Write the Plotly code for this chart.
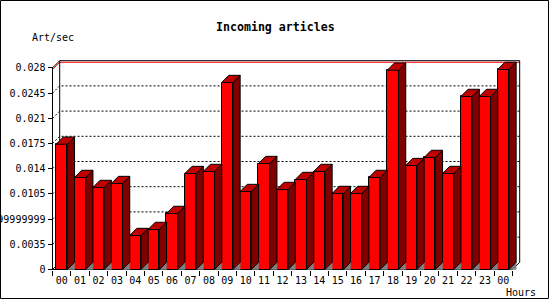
import plotly.graph_objects as go

# ---------------- data ----------------
hours = ["00", "01", "02", "03", "04", "05", "06", "07", "08", "09", "10", "11",
         "12", "13", "14", "15", "16", "17", "18", "19", "20", "21", "22", "23", "00"]
articles_per_sec = [0.01740, 0.01278, 0.01139, 0.01194, 0.00472, 0.00556, 0.00778,
                    0.01333, 0.01361, 0.02597, 0.01083, 0.01472, 0.01111, 0.01250,
                    0.01361, 0.01056, 0.01056, 0.01278, 0.02768, 0.01444, 0.01556,
                    0.01333, 0.02403, 0.02403, 0.02778]
y_tick_values = [0, 0.0035, 0.007, 0.0105, 0.014, 0.0175, 0.021, 0.0245, 0.028]
y_tick_labels = ["0", "0.0035", "0.0069999999999999", "0.0105", "0.014", "0.0175",
                 "0.021", "0.0245", "0.028"]
title_text = "Incoming articles"
y_title = "Art/sec"
x_title = "Hours"

# ---------------- geometry ----------------
W, H = 550, 300
M_L, M_R, M_T, M_B = 50, 27, 57, 27
PLOT_W = W - M_L - M_R
PLOT_H = H - M_T - M_B
CAT_PX = 18.4            # pixels per category
PX_PER_UNIT = 7200.0     # pixels per y unit
DEPTH_PX = 7.2           # 3d depth
AX_X_PX = 52.5           # pixel of front y axis
AX_Y_PX = 269.5          # pixel of front x axis

n = len(hours)
XL = -0.5 - (AX_X_PX - M_L) / CAT_PX
XR = XL + PLOT_W / CAT_PX
YB = -((H - M_B) - AX_Y_PX) / PX_PER_UNIT
YT = YB + PLOT_H / PX_PER_UNIT
dx = DEPTH_PX / CAT_PX
dy = DEPTH_PX / PX_PER_UNIT
bar_w = 11.3 / CAT_PX
x0 = -0.5
x1 = n - 0.5
ytop = y_tick_values[-1]
vmax = max(articles_per_sec)

FONT = "DejaVu Sans Mono"


def px_x(p):
    return (p - M_L) / PLOT_W


def px_y(p):
    return ((H - M_B) - p) / PLOT_H


# ---------------- 3d faces ----------------
side_x, side_y, top_x, top_y, fl_x, fl_y = [], [], [], [], [], []
for i, v in enumerate(articles_per_sec):
    xl = i - bar_w / 2
    xr = i + bar_w / 2
    side_x += [xr, xr + dx, xr + dx, xr, xr, None]
    side_y += [0, dy, v + dy, v, 0, None]
    top_x += [xl, xl + dx, xr + dx, xr, xl, None]
    top_y += [v, v + dy, v + dy, v, v, None]
    fl_x += [xr, xr + dx, xr + dx, xr, None]
    fl_y += [0, 0, dy, 0, None]

fig = go.Figure()
fig.add_trace(go.Scatter(x=fl_x, y=fl_y, mode="lines", fill="toself",
                         fillcolor="#808080", line=dict(color="#808080", width=0.5),
                         hoverinfo="skip", showlegend=False))
fig.add_trace(go.Scatter(x=side_x, y=side_y, mode="lines", fill="toself",
                         fillcolor="#800000", line=dict(color="black", width=1),
                         hoverinfo="skip", showlegend=False))
fig.add_trace(go.Scatter(x=top_x, y=top_y, mode="lines", fill="toself",
                         fillcolor="#C00000", line=dict(color="black", width=1),
                         hoverinfo="skip", showlegend=False))
fig.add_trace(go.Bar(x=list(range(n)), y=articles_per_sec, width=bar_w,
                     marker=dict(color="#FF0000", line=dict(color="black", width=1)),
                     hoverinfo="skip", showlegend=False))

# ---------------- walls, grid, axis lines ----------------
shapes = []
for v in y_tick_values[1:-1]:
    shapes.append(dict(type="path", xref="x", yref="y", layer="below",
                       path=f"M {x0},{v} L {x0 + dx},{v + dy} L {x1 + dx},{v + dy}",
                       line=dict(color="black", width=1, dash="2px,2px")))
shapes.append(dict(type="path", xref="x", yref="y", layer="below",
                   path=f"M {x0},{vmax} L {x0 + dx},{vmax + dy} L {x1 + dx},{vmax + dy}",
                   line=dict(color="#FF0000", width=1)))
shapes.append(dict(type="path", xref="x", yref="y", layer="below",
                   path=(f"M {x0 + dx},{dy} L {x0 + dx},{ytop + dy} L {x1 + dx},{ytop + dy} "
                         f"L {x1 + dx},{dy}"),
                   line=dict(color="black", width=1)))
shapes.append(dict(type="path", xref="x", yref="y", layer="below",
                   path=(f"M {x0 + dx},{ytop + dy} L {x0},{ytop} L {x0},0 L {x1},0 "
                         f"L {x1 + dx},{dy}"),
                   line=dict(color="black", width=1)))
shapes.append(dict(type="path", xref="x", yref="y", layer="below",
                   path=f"M {x0},0 L {x0 + dx},{dy}",
                   line=dict(color="black", width=1)))
shapes.append(dict(type="rect", xref="paper", yref="paper",
                   x0=px_x(0.5), x1=px_x(548.5), y0=px_y(298.5), y1=px_y(0.5),
                   line=dict(color="black", width=1)))

annotations = [
    dict(text=title_text, xref="paper", yref="paper", x=px_x(275), y=px_y(27),
         xanchor="center", yanchor="middle", showarrow=False,
         font=dict(family=FONT, size=11.6, color="black", weight="bold")),
    dict(text=y_title, xref="paper", yref="paper", x=px_x(29.5), y=px_y(37),
         xanchor="left", yanchor="middle", showarrow=False,
         font=dict(family=FONT, size=10, color="black")),
    dict(text=x_title, xref="paper", yref="paper", x=px_x(503.5), y=px_y(292),
         xanchor="left", yanchor="middle", showarrow=False,
         font=dict(family=FONT, size=10, color="black")),
]

fig.update_layout(
    width=W, height=H,
    margin=dict(l=M_L, r=M_R, t=M_T, b=M_B, pad=0, autoexpand=False),
    paper_bgcolor="white", plot_bgcolor="white",
    showlegend=False,
    bargap=0,
    shapes=shapes,
    annotations=annotations,
    font=dict(family=FONT, size=10, color="black"),
    xaxis=dict(range=[XL, XR], tickmode="array", tickvals=list(range(n)), ticktext=hours,
               ticks="outside", ticklen=1, tickcolor="rgba(0,0,0,0)",
               minor=dict(tickmode="array", tickvals=[i - 0.5 for i in range(n + 1)],
                          ticks="outside", ticklen=5, tickcolor="black", tickwidth=1,
                          showgrid=False),
               showgrid=False, zeroline=False, showline=False, automargin=False,
               anchor="free", position=px_y(AX_Y_PX),
               tickfont=dict(family=FONT, size=10, color="black")),
    yaxis=dict(range=[YB, YT], tickmode="array", tickvals=y_tick_values,
               ticktext=y_tick_labels, ticks="outside", ticklen=5, tickcolor="black",
               tickwidth=1, showgrid=False, zeroline=False, showline=False,
               automargin=False, anchor="free", position=px_x(AX_X_PX),
               tickfont=dict(family=FONT, size=10, color="black")),
)

fig.write_html("out.html")
